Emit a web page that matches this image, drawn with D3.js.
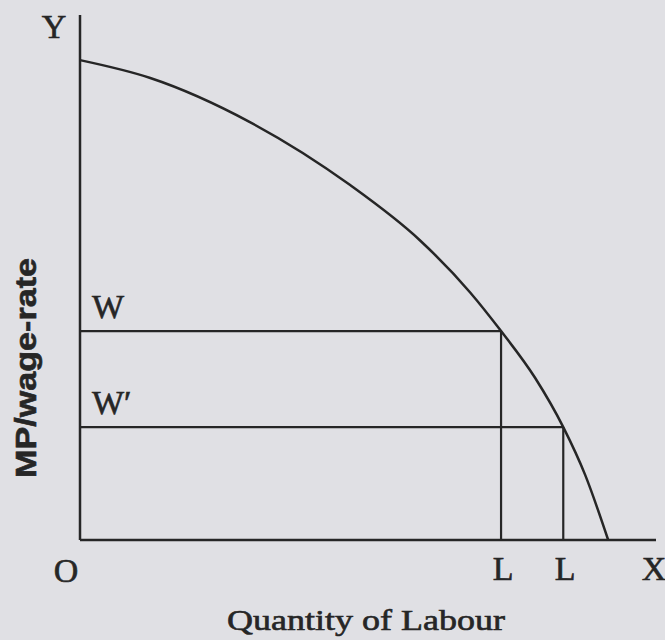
<!DOCTYPE html>
<html>
<head>
<meta charset="utf-8">
<script src="https://cdn.jsdelivr.net/npm/d3@7"></script>
<style>
  body { margin: 0; background: #e0e0e4; }
  svg text { font-family: "Liberation Serif", "DejaVu Serif", serif; fill: #262626; stroke: #262626; stroke-width: 0.6; }
</style>
</head>
<body>
<svg id="chart" width="665" height="640"></svg>
<script>
// MP curve (labour units, MP units)
var curveX = [0, 12.2, 29.5, 46.9, 59.0, 67.7, 73.1, 79.0, 83.9, 87.7, 91.7];
var curveY = [91.4, 88.0, 79.6, 67.6, 57.1, 47.2, 39.8, 30.9, 21.5, 12.4, 0];
// wage levels and the labour they hire
var wageLabels = ["W", "W\u2032"];
var wageValues = [39.8, 21.5];
var labourValues = [73.1, 83.9];
var labourLabels = ["L", "L"];

var svg = d3.select("#chart");
var ink = "#262626";

var x = d3.scaleLinear().domain([0, 100]).range([80, 656]);
var y = d3.scaleLinear().domain([0, 100]).range([540, 15]);

// axes
svg.append("line")
    .attr("x1", x(0)).attr("y1", y(0))
    .attr("x2", x(0)).attr("y2", y(100))
    .attr("stroke", ink).attr("stroke-width", 2.5);
svg.append("line")
    .attr("x1", x(0)).attr("y1", y(0))
    .attr("x2", x(100)).attr("y2", y(0))
    .attr("stroke", ink).attr("stroke-width", 2.5);

// wage lines
svg.selectAll(".wage").data(wageValues).enter()
    .append("line")
    .attr("class", "wage")
    .attr("x1", x(0))
    .attr("x2", (d, i) => x(labourValues[i]))
    .attr("y1", d => y(d))
    .attr("y2", d => y(d))
    .attr("stroke", ink).attr("stroke-width", 2.2);

// labour lines
svg.selectAll(".labour").data(labourValues).enter()
    .append("line")
    .attr("class", "labour")
    .attr("x1", d => x(d))
    .attr("x2", d => x(d))
    .attr("y1", (d, i) => y(wageValues[i]))
    .attr("y2", y(0))
    .attr("stroke", ink).attr("stroke-width", 2.2);

// MP curve
var pts = curveX.map((v, i) => [v, curveY[i]]);
svg.append("path")
    .datum(pts)
    .attr("fill", "none")
    .attr("stroke", ink)
    .attr("stroke-width", 2.5)
    .attr("d", d3.line().x(d => x(d[0])).y(d => y(d[1])).curve(d3.curveMonotoneX));

// labels
svg.append("text").attr("x", 54).attr("y", 38).attr("text-anchor", "middle")
    .attr("font-size", 34).text("Y");
svg.append("text").attr("x", 66).attr("y", 582).attr("text-anchor", "middle")
    .attr("font-size", 34).text("O");
svg.append("text").attr("x", 654).attr("y", 580).attr("text-anchor", "middle")
    .attr("font-size", 34).text("X");

svg.selectAll(".wlab").data(wageLabels).enter()
    .append("text")
    .attr("x", 92)
    .attr("y", (d, i) => y(wageValues[i]) - 13)
    .attr("font-size", 34)
    .text(d => d);

svg.selectAll(".llab").data(labourLabels).enter()
    .append("text")
    .attr("x", (d, i) => x(labourValues[i]) + 2)
    .attr("y", 580).attr("text-anchor", "middle")
    .attr("font-size", 34)
    .text(d => d);

svg.append("text").attr("x", 366).attr("y", 630).attr("text-anchor", "middle")
    .attr("font-size", 29)
    .attr("textLength", 278).attr("lengthAdjust", "spacingAndGlyphs")
    .text("Quantity of Labour");

svg.append("text")
    .attr("transform", "translate(36,368) rotate(-90)")
    .attr("text-anchor", "middle")
    .style("font-family", "'Liberation Sans', Arial, sans-serif")
    .attr("font-size", 29).attr("font-weight", "bold")
    .attr("textLength", 220).attr("lengthAdjust", "spacingAndGlyphs")
    .text("MP/wage-rate");
</script>
</body>
</html>
